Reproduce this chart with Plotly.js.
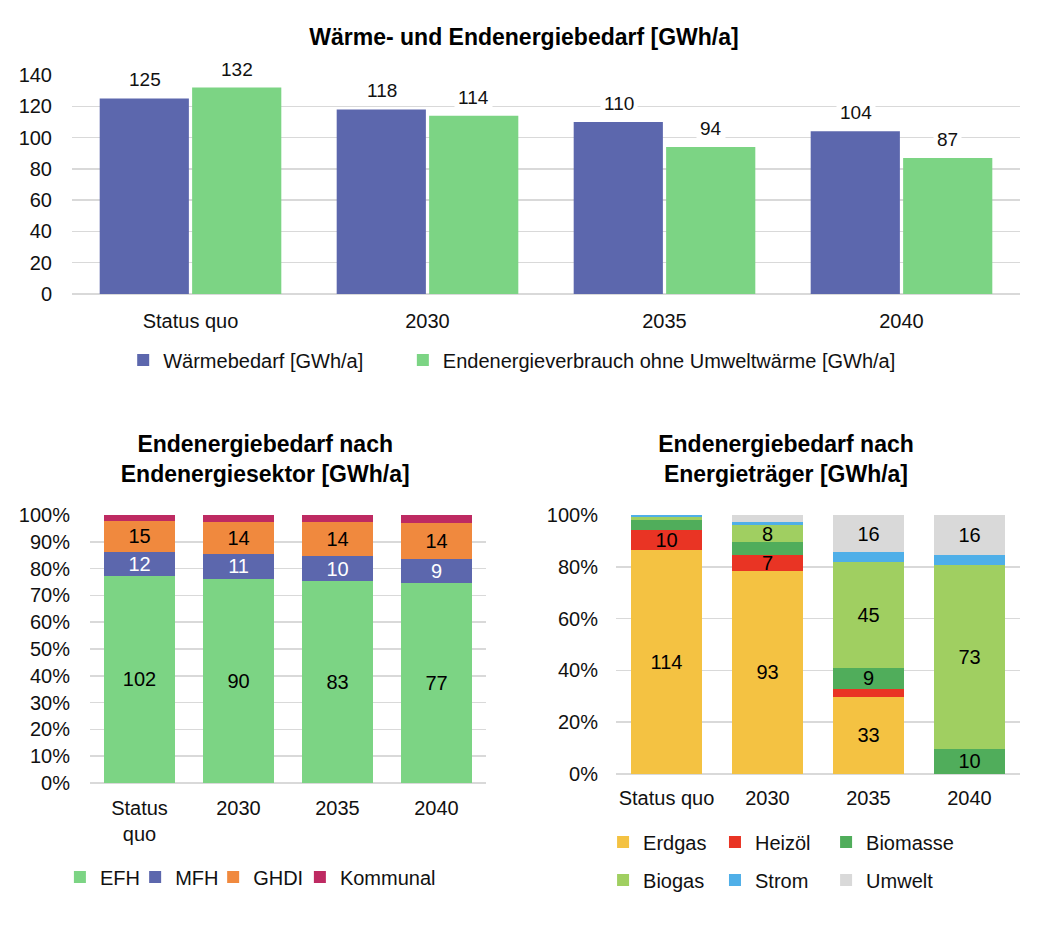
<!DOCTYPE html>
<html>
<head>
<meta charset="utf-8">
<script src="https://cdn.plot.ly/plotly-3.0.1.min.js"></script>
<style>
  html, body { margin: 0; padding: 0; background: #fff; }
  body { width: 1048px; height: 948px; position: relative; overflow: hidden; }
  .chart { position: absolute; }
  #top { left: 0; top: 0; width: 1048px; height: 400px; }
  #bl { left: 0; top: 400px; width: 520px; height: 548px; }
  #br { left: 524px; top: 400px; width: 524px; height: 548px; }
</style>
</head>
<body>
<div id="top" class="chart"></div>
<div id="bl" class="chart"></div>
<div id="br" class="chart"></div>
<script>
// ---------- Data ----------
const categories = ['Status quo', '2030', '2035', '2040'];
const categoryTickText = ['Status<br>quo', '2030', '2035', '2040'];

// Top chart
const waermebedarf = [125, 118, 110, 104];
const endenergie = [132, 114, 94, 87];

// Bottom left: by sector
const efh = [102, 90, 83, 77];
const mfh = [12, 11, 10, 9];
const ghdi = [15, 14, 14, 14];
const kommunal = [3, 3, 3, 3];

// Bottom right: by energy carrier
const erdgas = [114, 93, 33, 0];
const heizoel = [10, 7, 3.5, 0];
const biomasse = [5.5, 6, 9, 10];
const biogas = [1.5, 8, 45, 73];
const strom = [0.8, 1.5, 4.3, 4];
const umwelt = [0, 3, 16, 16];

// ---------- Styles ----------
const FONT = 'Liberation Sans, Arial, sans-serif';
const FS = 20;
const TS = 23;
const GRID = '#d9d9d9';
const C = {
  blue: '#5c67ad', green: '#7cd484', orange: '#f0893e', berry: '#be2a62',
  erdgas: '#f4c242', heizoel: '#e93424', biomasse: '#50ad5b', biogas: '#a0cf61',
  strom: '#4fafe8', umwelt: '#d9d9d9'
};
const cfg = { displayModeBar: false, staticPlot: true };
const labelOf = v => (v >= 7 ? String(Math.round(v)) : '');
const legendId = i => (i === 0 ? 'legend' : 'legend' + (i + 1));
const mkLegend = (x, y) => ({ orientation: 'h', x: x, xanchor: 'left', y: y, yanchor: 'middle', visible: true,
  font: { family: FONT, size: FS, color: '#111' }, itemwidth: 30, bgcolor: 'rgba(0,0,0,0)' });

// ---------- Top chart ----------
const topSeries = [
  { name: 'Wärmebedarf [GWh/a]', y: waermebedarf, color: C.blue, shift: -46, lx: 0.054 },
  { name: 'Endenergieverbrauch ohne Umweltwärme [GWh/a]', y: endenergie, color: C.green, shift: 46, lx: 0.349 }
];
const topLayoutLegends = {};
const topAnnotations = [];
topSeries.forEach((s, k) => {
  topLayoutLegends[legendId(k)] = mkLegend(s.lx, -66 / 219);
  categories.forEach((c, i) => {
    topAnnotations.push({ x: i, y: s.y[i], xref: 'x', yref: 'y', text: String(s.y[i]), showarrow: false,
      yanchor: 'bottom', xshift: s.shift, yshift: 4, bgcolor: '#fff', borderpad: 3, font: { family: FONT, size: 19, color: '#111' } });
  });
});
Plotly.newPlot('top', topSeries.map((s, k) => ({
  type: 'bar', name: s.name, x: categories, y: s.y, marker: { color: s.color }, legend: legendId(k), showlegend: true, hoverinfo: 'none'
})), Object.assign({
  width: 1048, height: 400, showlegend: true,
  margin: { l: 72, r: 28, t: 75, b: 106 },
  paper_bgcolor: '#fff', plot_bgcolor: '#fff',
  font: { family: FONT, size: FS, color: '#111' },
  title: { text: '<b>Wärme- und Endenergiebedarf [GWh/a]</b>', x: 0.5, xanchor: 'center', y: 1 - 37 / 400, yanchor: 'middle',
    font: { family: FONT, size: TS, color: '#000' } },
  barmode: 'group', bargap: 0.22, bargroupgap: 0.035,
  xaxis: { type: 'category', range: [-0.5, 3.5], showgrid: false, showline: false, zeroline: false, ticks: 'outside', ticklen: 9, tickcolor: 'rgba(0,0,0,0)',
    tickfont: { family: FONT, size: FS, color: '#111' } },
  yaxis: { range: [0, 140], dtick: 20, gridcolor: GRID, gridwidth: 1.5, zeroline: true, zerolinecolor: GRID, zerolinewidth: 2,
    showline: false, ticks: 'outside', ticklen: 15, tickcolor: 'rgba(0,0,0,0)', tickfont: { family: FONT, size: FS, color: '#111' } },
  annotations: topAnnotations
}, topLayoutLegends), cfg);

// ---------- Bottom left ----------
const sectorSeries = [
  { name: 'EFH', y: efh, color: C.green, tc: '#000', lx: -0.076 },
  { name: 'MFH', y: mfh, color: C.blue, tc: '#fff', lx: 0.114 },
  { name: 'GHDI', y: ghdi, color: C.orange, tc: '#000', lx: 0.311 },
  { name: 'Kommunal', y: kommunal, color: C.berry, tc: '#000', lx: 0.530 }
];
const blLegends = {};
sectorSeries.forEach((s, k) => { blLegends[legendId(k)] = mkLegend(s.lx, -(877 - 783) / 268); });
Plotly.newPlot('bl', sectorSeries.map((s, k) => ({
  type: 'bar', name: s.name, x: categories, y: s.y, marker: { color: s.color }, legend: legendId(k), showlegend: true,
  text: s.y.map(labelOf), textposition: 'inside', insidetextanchor: 'middle', textangle: 0,
  textfont: { family: FONT, size: FS, color: s.tc }, hoverinfo: 'none'
})), Object.assign({
  width: 520, height: 548, showlegend: true,
  margin: { l: 90, r: 34, t: 115, b: 165 },
  paper_bgcolor: '#fff', plot_bgcolor: '#fff',
  font: { family: FONT, size: FS, color: '#111' },
  title: { text: '<b>Endenergiebedarf nach<br>Endenergiesektor [GWh/a]</b>', x: 0.51, xanchor: 'center', y: 1 - 52 / 548, yanchor: 'top',
    font: { family: FONT, size: TS, color: '#000' } },
  barmode: 'stack', barnorm: 'percent', bargap: 0.28,
  uniformtext: { mode: 'show', minsize: FS },
  xaxis: { type: 'category', tickvals: categories, ticktext: categoryTickText, showgrid: false, showline: false, zeroline: false,
    ticks: 'outside', ticklen: 7, tickcolor: 'rgba(0,0,0,0)', tickfont: { family: FONT, size: FS, color: '#111' } },
  yaxis: { range: [0, 100], dtick: 10, ticksuffix: '%', gridcolor: GRID, gridwidth: 1.5, zeroline: true, zerolinecolor: GRID, zerolinewidth: 2,
    showline: false, ticks: 'outside', ticklen: 15, tickcolor: 'rgba(0,0,0,0)', tickfont: { family: FONT, size: FS, color: '#111' } }
}, blLegends), cfg);

// ---------- Bottom right ----------
const carrierSeries = [
  { name: 'Erdgas', y: erdgas, color: C.erdgas, lx: -0.032, row: 842 },
  { name: 'Heizöl', y: heizoel, color: C.heizoel, lx: 0.245, row: 842 },
  { name: 'Biomasse', y: biomasse, color: C.biomasse, lx: 0.520, row: 842 },
  { name: 'Biogas', y: biogas, color: C.biogas, lx: -0.032, row: 880 },
  { name: 'Strom', y: strom, color: C.strom, lx: 0.245, row: 880 },
  { name: 'Umwelt', y: umwelt, color: C.umwelt, lx: 0.520, row: 880 }
];
const brLegends = {};
carrierSeries.forEach((s, k) => { brLegends[legendId(k)] = mkLegend(s.lx, -(s.row - 774) / 259); });
Plotly.newPlot('br', carrierSeries.map((s, k) => ({
  type: 'bar', name: s.name, x: categories, y: s.y, marker: { color: s.color }, legend: legendId(k), showlegend: true,
  text: s.y.map(labelOf), textposition: 'inside', insidetextanchor: 'middle', textangle: 0,
  textfont: { family: FONT, size: FS, color: '#000' }, hoverinfo: 'none'
})), Object.assign({
  width: 524, height: 548, showlegend: true,
  margin: { l: 92, r: 28, t: 115, b: 174 },
  paper_bgcolor: '#fff', plot_bgcolor: '#fff',
  font: { family: FONT, size: FS, color: '#111' },
  title: { text: '<b>Endenergiebedarf nach<br>Energieträger [GWh/a]</b>', x: 0.5, xanchor: 'center', y: 1 - 52 / 548, yanchor: 'top',
    font: { family: FONT, size: TS, color: '#000' } },
  barmode: 'stack', barnorm: 'percent', bargap: 0.29,
  uniformtext: { mode: 'show', minsize: FS },
  xaxis: { type: 'category', showgrid: false, showline: false, zeroline: false,
    ticks: 'outside', ticklen: 6, tickcolor: 'rgba(0,0,0,0)', tickfont: { family: FONT, size: FS, color: '#111' } },
  yaxis: { range: [0, 100], dtick: 20, ticksuffix: '%', gridcolor: GRID, gridwidth: 1.5, zeroline: true, zerolinecolor: GRID, zerolinewidth: 2,
    showline: false, ticks: 'outside', ticklen: 13, tickcolor: 'rgba(0,0,0,0)', tickfont: { family: FONT, size: FS, color: '#111' } }
}, brLegends), cfg);
</script>
</body>
</html>
